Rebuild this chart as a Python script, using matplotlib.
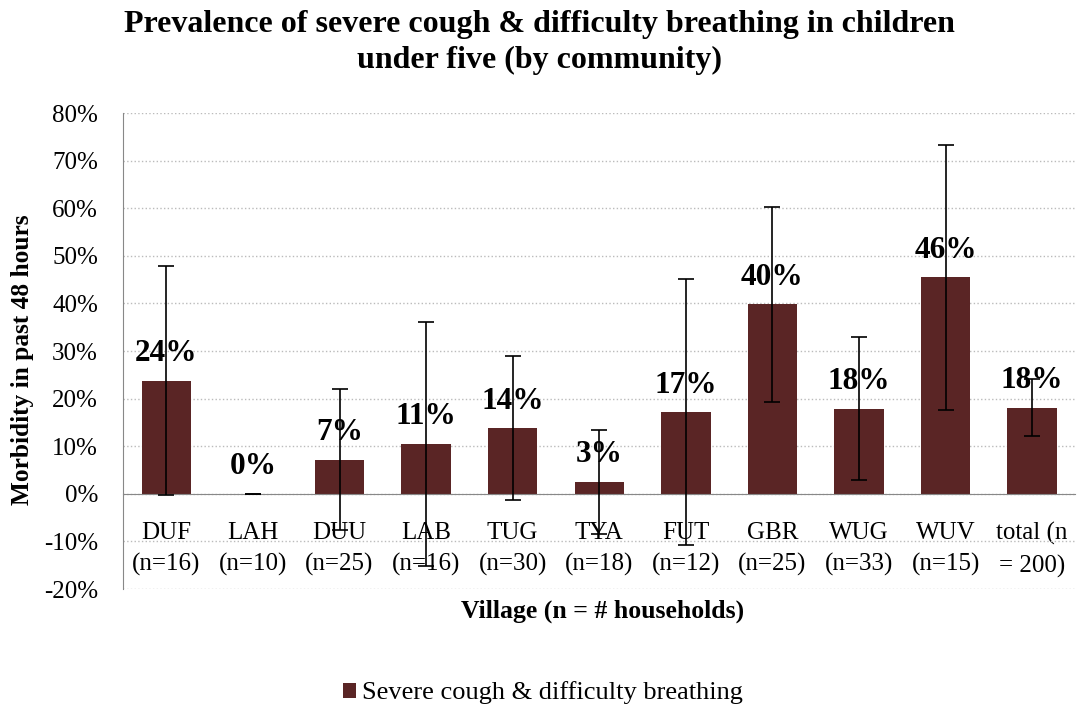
import numpy as np
import matplotlib
matplotlib.use("Agg")
import matplotlib.pyplot as plt
from matplotlib.ticker import PercentFormatter

plt.rcParams['font.family'] = ['Liberation Serif', 'DejaVu Serif']
plt.rcParams['axes.unicode_minus'] = False

# villages and household counts
villages = ["DUF", "LAH", "DUU", "LAB", "TUG", "TYA", "FUT", "GBR", "WUG", "WUV", "total (n"]
counts = ["(n=16)", "(n=10)", "(n=25)", "(n=16)", "(n=30)", "(n=18)", "(n=12)",
          "(n=25)", "(n=33)", "(n=15)", "= 200)"]

# prevalence and error (half-width of the interval)
prevalence = [0.238, 0.0, 0.072, 0.105, 0.138, 0.025, 0.172, 0.398, 0.179, 0.455, 0.181]
err = [0.240, 0.0, 0.148, 0.257, 0.151, 0.110, 0.280, 0.205, 0.151, 0.278, 0.060]
value_labels = ["24%", "0%", "7%", "11%", "14%", "3%", "17%", "40%", "18%", "46%", "18%"]

bar_color = "#5a2525"

fig = plt.figure(figsize=(10.86, 7.10), dpi=100)
ax = fig.add_axes([0.1133, 0.1704, 0.877, 0.6704])

x = np.arange(len(villages))
bars = ax.bar(x, prevalence, width=0.57, color=bar_color, zorder=2,
              label="Severe cough & difficulty breathing")
ax.errorbar(x, prevalence, yerr=err, fmt="none", ecolor="black",
            elinewidth=1.2, capsize=6, capthick=1.2, zorder=4)

for xi, v, lab in zip(x, prevalence, value_labels):
    ax.annotate(lab, (xi, v), xytext=(0, 14), textcoords="offset points",
                ha="center", va="baseline", fontsize=22.5, fontweight="bold", zorder=5)

# zero line as the bottom spine (set before the ticks, it resets them)
ax.spines["bottom"].set_position(("data", 0))
ax.spines["bottom"].set_color("#888888")
ax.spines["left"].set_color("#888888")
ax.spines["top"].set_visible(False)
ax.spines["right"].set_visible(False)

ax.set_xlim(-0.5, len(villages) - 0.5)
ax.set_ylim(-0.2, 0.8)
ax.set_yticks(np.arange(-0.2, 0.81, 0.1))
ax.yaxis.set_major_formatter(PercentFormatter(1.0, decimals=0))
ax.tick_params(axis="y", length=0, labelsize=18, pad=18)

# category labels sit just under the zero line
ax.set_xticks(x)
ax.set_xticklabels([f"{v}\n{c}" for v, c in zip(villages, counts)], fontsize=18,
                   linespacing=1.55)
ax.tick_params(axis="x", length=0, pad=20)

ax.grid(axis="y", color="#bbbbbb", linestyle=":", linewidth=1, zorder=0)
ax.set_axisbelow(True)

fig.text(0.021, 0.493, "Morbidity in past 48 hours", rotation=90, ha="center", va="center",
         fontsize=18.3, fontweight="bold")
fig.text(0.555, 0.139, "Village (n = # households)", ha="center", va="center",
         fontsize=18.5, fontweight="bold")

fig.text(0.497, 0.966, "Prevalence of severe cough & difficulty breathing in children",
         ha="center", va="center", fontsize=23, fontweight="bold")
fig.text(0.497, 0.915, "under five (by community)",
         ha="center", va="center", fontsize=23, fontweight="bold")

fig.legend(handles=[bars], loc="center", bbox_to_anchor=(0.50, 0.024), frameon=False,
           fontsize=19, handlelength=0.5, handleheight=0.5, handletextpad=0.25)

fig.savefig("out.png", dpi=100)
